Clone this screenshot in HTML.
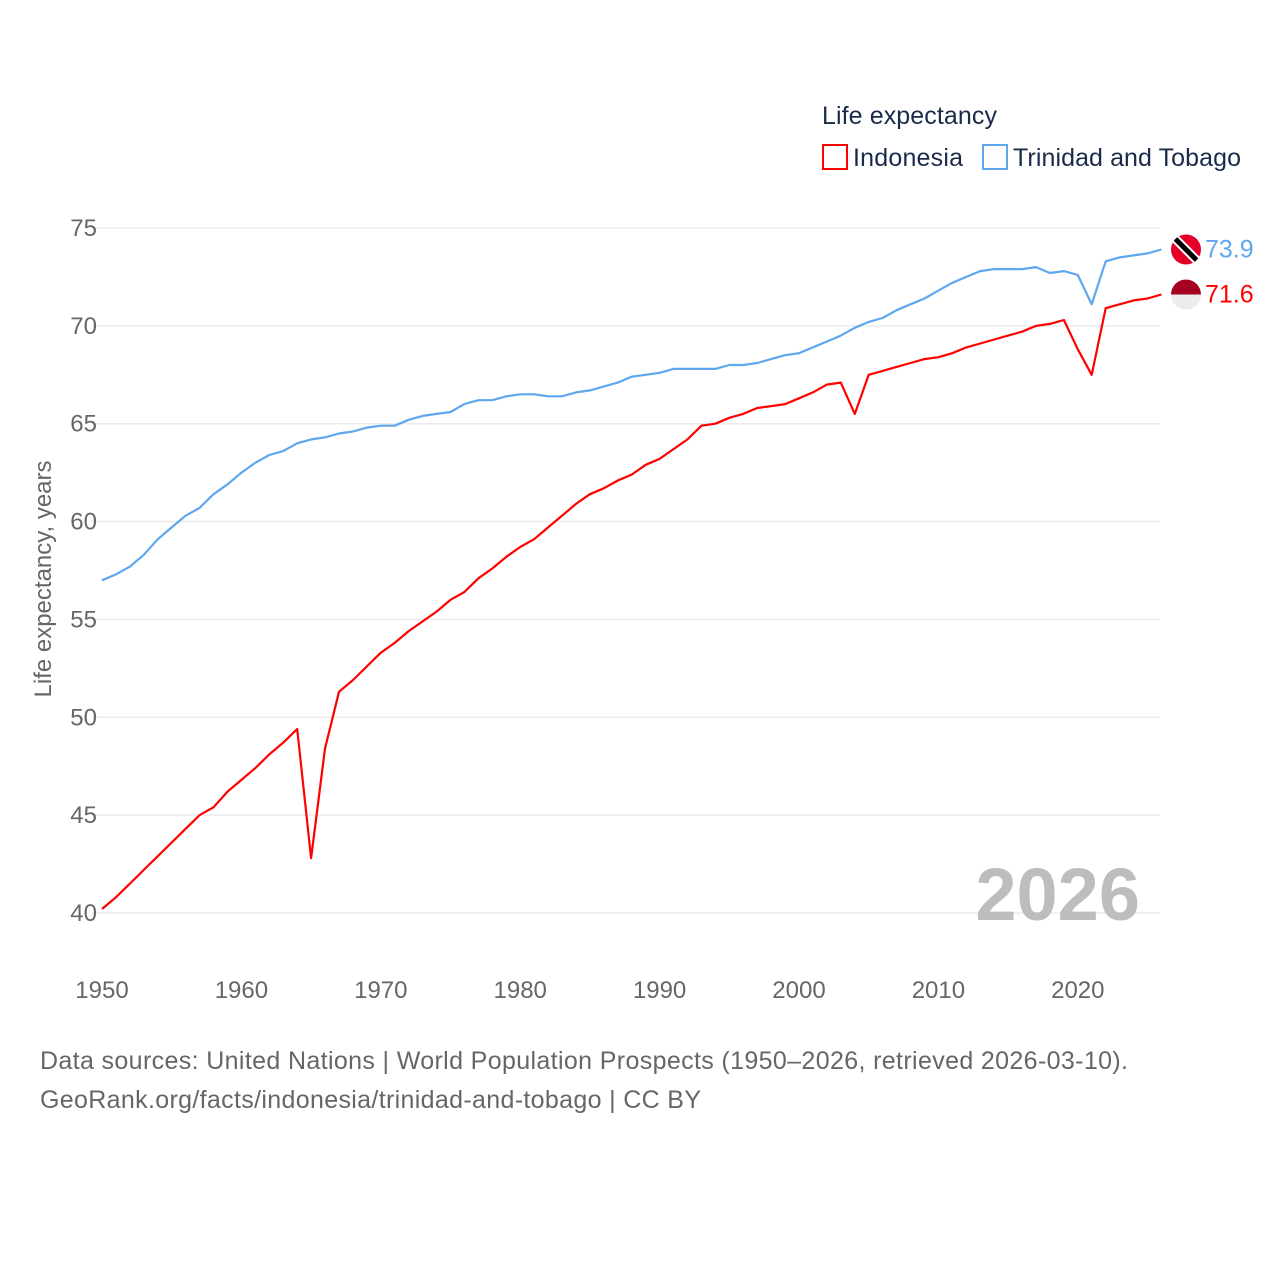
<!DOCTYPE html>
<html><head><meta charset="utf-8">
<style>
body{margin:0;background:#fff;font-family:"Liberation Sans",sans-serif;}
svg text{font-family:"Liberation Sans",sans-serif;}
</style></head>
<body>
<svg width="1280" height="1280" id="chart">
<text x="822" y="124" font-size="25" fill="#1a2b4a" textLength="175">Life expectancy</text>
<g>
<rect x="823" y="145" width="24" height="24" fill="none" stroke="#ff0000" stroke-width="2"/>
<text x="853" y="166" font-size="25" fill="#1a2b4a" textLength="110">Indonesia</text></g>
<g>
<rect x="983" y="145" width="24" height="24" fill="none" stroke="#5ea7ef" stroke-width="2"/>
<text x="1013" y="166" font-size="25" fill="#1a2b4a" textLength="228">Trinidad and Tobago</text></g>
<g id="grid"></g><g id="lines"></g>
<text x="1140" y="920" font-size="74" font-weight="bold" fill="#bdbdbd" text-anchor="end">2026</text>
<text transform="translate(51,579) rotate(-90)" font-size="24" fill="#666" text-anchor="middle">Life expectancy, years</text>
<text x="40" y="1069" font-size="25" fill="#666" textLength="1088">Data sources: United Nations | World Population Prospects (1950–2026, retrieved 2026-03-10).</text>
<text x="40" y="1108" font-size="25" fill="#666" textLength="661">GeoRank.org/facts/indonesia/trinidad-and-tobago | CC BY</text>
</svg>
<script>
const years=[];for(let y=1950;y<=2026;y++)years.push(y);
const indonesia=[40.2,40.8,41.5,42.2,42.9,43.6,44.3,45.0,45.4,46.2,46.8,47.4,48.1,48.7,49.4,42.8,48.4,51.3,51.9,52.6,53.3,53.8,54.4,54.9,55.4,56.0,56.4,57.1,57.6,58.2,58.7,59.1,59.7,60.3,60.9,61.4,61.7,62.1,62.4,62.9,63.2,63.7,64.2,64.9,65.0,65.3,65.5,65.8,65.9,66.0,66.3,66.6,67.0,67.1,65.5,67.5,67.7,67.9,68.1,68.3,68.4,68.6,68.9,69.1,69.3,69.5,69.7,70.0,70.1,70.3,68.8,67.5,70.9,71.1,71.3,71.4,71.6];
const trinidad=[57.0,57.3,57.7,58.3,59.1,59.7,60.3,60.7,61.4,61.9,62.5,63.0,63.4,63.6,64.0,64.2,64.3,64.5,64.6,64.8,64.9,64.9,65.2,65.4,65.5,65.6,66.0,66.2,66.2,66.4,66.5,66.5,66.4,66.4,66.6,66.7,66.9,67.1,67.4,67.5,67.6,67.8,67.8,67.8,67.8,68.0,68.0,68.1,68.3,68.5,68.6,68.9,69.2,69.5,69.9,70.2,70.4,70.8,71.1,71.4,71.8,72.2,72.5,72.8,72.9,72.9,72.9,73.0,72.7,72.8,72.6,71.1,73.3,73.5,73.6,73.7,73.9];
const yTicks=[40,45,50,55,60,65,70,75];
const xTicks=[1950,1960,1970,1980,1990,2000,2010,2020];
const NS='http://www.w3.org/2000/svg';
const X=v=>102+(v-1950)*13.94;
const Y=v=>228+(75-v)*19.57;
const grid=document.getElementById('grid'),lines=document.getElementById('lines');
function mk(tag,attrs,parent){const e=document.createElementNS(NS,tag);for(const k in attrs)e.setAttribute(k,attrs[k]);parent.appendChild(e);return e;}
yTicks.forEach(t=>{
 const l=mk('line',{x1:92,x2:1160,y1:Y(t),y2:Y(t),stroke:'#ebebeb','stroke-width':1.5},grid);
 
 
 const tx=mk('text',{x:97,y:Y(t)+8,'font-size':24,fill:'#666','text-anchor':'end'},grid);tx.textContent=t;
 
 
});
xTicks.forEach(t=>{
 const tx=mk('text',{x:X(t),y:998,'font-size':24,fill:'#666','text-anchor':'middle'},grid);tx.textContent=t;
 
 
});
function series(vals,color,name){
 const pts=vals.map((v,i)=>X(years[i]).toFixed(1)+','+Y(v).toFixed(1)).join(' ');
 const p=mk('polyline',{points:pts,fill:'none',stroke:color,'stroke-width':2.2,'stroke-linejoin':'round'},lines);
 
 
 const last=vals[vals.length-1];
 const lb=mk('text',{x:1205,y:Y(last)+8,'font-size':25,fill:color},lines);lb.textContent=last.toFixed(1);
 
 
 return Y(last);
}
const yi=series(indonesia,'#ff0000','indonesia');
const yt=series(trinidad,'#5ea7ef','trinidad');
const fi=mk('g',{},lines);


const ci=mk('clipPath',{id:'ci'},fi);mk('circle',{cx:1186,cy:yi,r:15},ci);
mk('rect',{x:1171,y:yi-15,width:30,height:15,fill:'#a50021','clip-path':'url(#ci)'},fi);
mk('rect',{x:1171,y:yi,width:30,height:15,fill:'#ececec','clip-path':'url(#ci)'},fi);
const ft=mk('g',{},lines);


const ct=mk('clipPath',{id:'ct'},ft);mk('circle',{cx:1186,cy:yt,r:15},ct);
mk('circle',{cx:1186,cy:yt,r:15,fill:'#e4002b'},ft);
mk('line',{x1:1173,y1:yt-13,x2:1199,y2:yt+13,stroke:'#fff','stroke-width':9,'clip-path':'url(#ct)'},ft);
mk('line',{x1:1173,y1:yt-13,x2:1199,y2:yt+13,stroke:'#000','stroke-width':5,'clip-path':'url(#ct)'},ft);
</script>
</body></html>
